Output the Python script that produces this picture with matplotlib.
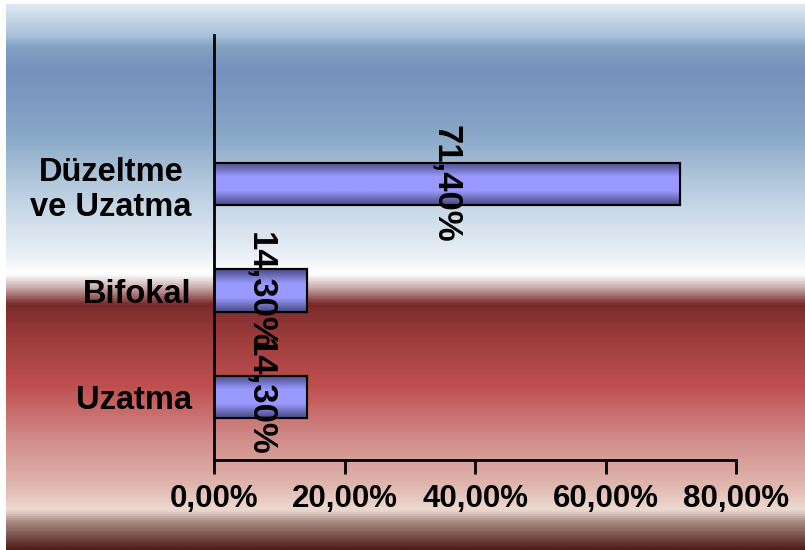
import numpy as np
import matplotlib
matplotlib.use("Agg")
import matplotlib.pyplot as plt
from matplotlib.colors import LinearSegmentedColormap

plt.rcParams['font.family'] = ['Liberation Sans', 'DejaVu Sans']
plt.rcParams['font.weight'] = 'bold'

# veriler
kategoriler = ['Uzatma', 'Bifokal', 'Düzeltme\nve Uzatma']
degerler = [14.3, 14.3, 71.4]
etiketler = ['14,30%', '14,30%', '71,40%']
x_ticks = [0, 20, 40, 60, 80]
x_etiket = ['0,00%', '20,00%', '40,00%', '60,00%', '80,00%']

fig = plt.figure(figsize=(8.05, 5.5), dpi=100)
fig.patch.set_facecolor('white')

# arka plan gradyanı (üstten alta)
bg = fig.add_axes([6/805, 0, 1 - 6/805, 1 - 4/550])
bg.set_axis_off()
stops = [(0.000, '#dde8f2'), (0.057, '#a8c0d8'), (0.076, '#82a2c2'),
         (0.121, '#7490bc'), (0.232, '#86a6c6'), (0.362, '#c2d4e4'),
         (0.454, '#e8eef5'), (0.495, '#ffffff'), (0.520, '#c8a8a8'),
         (0.550, '#7a2a2a'), (0.611, '#9c3c3c'), (0.702, '#c05050'),
         (0.794, '#d08a88'), (0.885, '#e0b8b0'), (0.928, '#eedad2'),
         (0.950, '#a88a82'), (1.000, '#4e1e18')]
cmap_bg = LinearSegmentedColormap.from_list('bg', stops)
grad = np.linspace(0, 1, 512).reshape(-1, 1)
bg.imshow(grad, aspect='auto', cmap=cmap_bg, extent=[0, 1, 1, 0])
bg.set_xlim(0, 1)
bg.set_ylim(1, 0)

ax = fig.add_axes([214/805, 1 - 460/550, 522/805, 425/550])
ax.patch.set_alpha(0)

y = np.arange(len(kategoriler))
bars = ax.barh(y, degerler, height=0.40, color='#9999ff', edgecolor='black', linewidth=1.5, zorder=2)

# çubuklarda dikey gradyan
cmap_bar = LinearSegmentedColormap.from_list('bar', ['#4a4a84', '#9999ff', '#9999ff', '#4a4a84'])
g = np.linspace(0, 1, 100).reshape(-1, 1)
for b in bars:
    im = ax.imshow(g, aspect='auto', cmap=cmap_bar, zorder=2.5,
                   extent=[b.get_x(), b.get_x() + b.get_width(), b.get_y(), b.get_y() + b.get_height()])
    im.set_clip_path(b)
    ax.add_patch(plt.Rectangle((b.get_x(), b.get_y()), b.get_width(), b.get_height(),
                               fill=False, edgecolor='black', linewidth=1.5, zorder=3))

for yi, v, t in zip(y, degerler, etiketler):
    ax.text(v / 2, yi, t, rotation=-90, ha='center', va='center', fontsize=25, fontweight='bold', zorder=4)

ax.set_xlim(0, 80)
ax.set_ylim(-0.59, 3.40)
ax.set_xticks(x_ticks)
ax.set_xticklabels(x_etiket, fontsize=22.5, fontweight='bold')
ax.set_yticks(y)
ax.set_yticklabels(kategoriler, fontsize=23.5, fontweight='bold', multialignment='center')
ax.tick_params(axis='x', direction='out', length=10, width=2, pad=7)
ax.tick_params(axis='y', length=0, pad=16)
for s in ['top', 'right']:
    ax.spines[s].set_visible(False)
for s in ['left', 'bottom']:
    ax.spines[s].set_linewidth(2)

plt.savefig('out.png', dpi=100)
